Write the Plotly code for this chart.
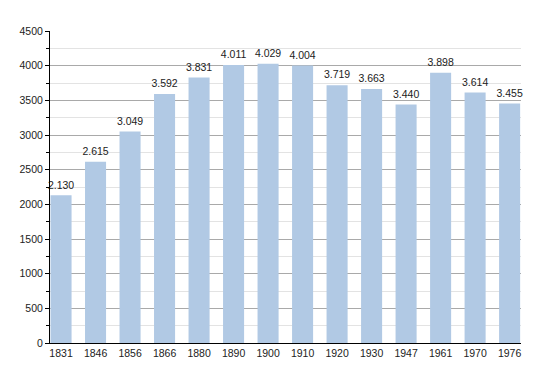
import plotly.graph_objects as go

years = ["1831", "1846", "1856", "1866", "1880", "1890", "1900", "1910",
         "1920", "1930", "1947", "1961", "1970", "1976"]
population = [2130, 2615, 3049, 3592, 3831, 4011, 4029, 4004,
              3719, 3663, 3440, 3898, 3614, 3455]
y_ticks = [0, 500, 1000, 1500, 2000, 2500, 3000, 3500, 4000, 4500]

labels = [f"{v:,}".replace(",", ".") for v in population]

fig = go.Figure()
fig.add_trace(go.Bar(
    x=years, y=population,
    marker=dict(color="#b1c9e4", line=dict(width=0)),
))
fig.add_trace(go.Scatter(
    x=years, y=population, text=labels, mode="markers+text",
    marker=dict(size=5, opacity=0),
    textposition="top center",
    textfont=dict(size=10.5, color="#222222"),
    cliponaxis=False, hoverinfo="skip",
))

# page body has an 8px default margin; size the figure to fit the 550x373 window
fig.update_layout(
    width=542, height=365,
    margin=dict(l=42, r=29, t=23, b=30),
    plot_bgcolor="white", paper_bgcolor="white",
    font=dict(family="Liberation Sans, Arial, sans-serif", size=10.5, color="#222222"),
    bargap=0.39,
    showlegend=False,
)
fig.update_xaxes(
    type="category", range=[-0.32, 13.33],
    showline=True, linecolor="black", linewidth=1,
    showgrid=False, ticks="", tickfont=dict(size=10.5),
)
fig.update_yaxes(
    range=[0, 4500], tickvals=y_ticks,
    showline=True, linecolor="black", linewidth=1,
    showgrid=True, gridcolor="#a9a9a9", gridwidth=1,
    ticks="outside", ticklen=4, tickcolor="black",
    tickfont=dict(size=10.5),
    zeroline=False,
    minor=dict(dtick=250, showgrid=True, gridcolor="#e3e3e3",
               ticks="outside", ticklen=3, tickcolor="black"),
)

fig.write_html("out.html")
